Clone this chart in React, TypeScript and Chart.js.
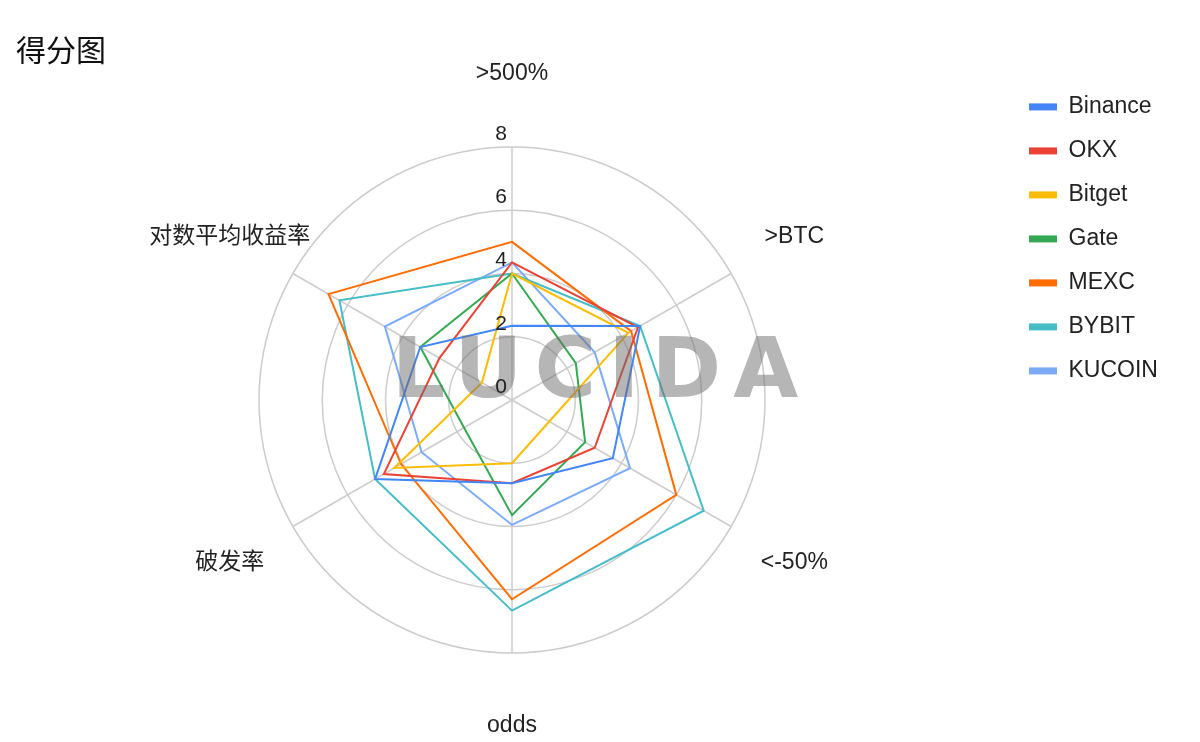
import React, { useEffect, useRef } from 'react';
import { Chart, registerables } from 'chart.js';

Chart.register(...registerables);

const categories = ['>500%', '>BTC', '<-50%', 'odds', '破发率', '对数平均收益率'];
const seriesNames = ['Binance', 'OKX', 'Bitget', 'Gate', 'MEXC', 'BYBIT', 'KUCOIN'];
const binance = [2.35, 4.68, 3.68, 2.63, 5.0, 3.35];
const okx = [4.35, 4.6, 3.02, 2.63, 4.68, 2.65];
const bitget = [4.0, 4.25, 1.36, 2.0, 4.3, 1.1];
const gate = [4.0, 2.33, 2.67, 3.64, 1.75, 3.35];
const mexc = [5.0, 4.35, 6.0, 6.3, 4.05, 6.7];
const bybit = [4.0, 4.68, 7.0, 6.66, 5.0, 6.3];
const kucoin = [4.35, 3.02, 4.31, 3.95, 3.3, 4.64];
const seriesValues = [binance, okx, bitget, gate, mexc, bybit, kucoin];
const colors = ['#4285F4', '#EA4335', '#FBBC04', '#34A853', '#FF6D01', '#46BDC6', '#7BAAF7'];
const axisMin = 0;
const axisMax = 8;
const axisStep = 2;
const titleText = '得分图';
const watermarkText = 'LUCIDA';

const FONT = '"Liberation Sans", Arial, "Noto Sans CJK SC", sans-serif';

const overlayPlugin = {
  id: 'overlayLabels',
  afterDatasetsDraw(chart: any) {
    const scale = chart.scales.r;
    const ctx = chart.ctx as CanvasRenderingContext2D;
    ctx.save();
    // watermark
    ctx.font = 'bold 84px "DejaVu Sans", sans-serif';
    (ctx as any).letterSpacing = '12px';
    ctx.fillStyle = 'rgba(110,110,110,0.5)';
    ctx.textAlign = 'center';
    ctx.textBaseline = 'alphabetic';
    ctx.fillText(watermarkText, scale.xCenter + 89, scale.yCenter - 3);
    (ctx as any).letterSpacing = '0px';

    // tick labels
    ctx.font = `21px ${FONT}`;
    ctx.fillStyle = '#222';
    ctx.textAlign = 'right';
    ctx.textBaseline = 'middle';
    scale.ticks.forEach((t: any) => {
      const d = scale.getDistanceFromCenterForValue(t.value);
      ctx.fillText(String(t.label), scale.xCenter - 5, scale.yCenter - d - 13);
    });

    // point labels
    ctx.font = `23px ${FONT}`;
    ctx.textAlign = 'center';
    (chart.data.labels as string[]).forEach((lab, i) => {
      const p = scale.getPointPosition(i, scale.drawingArea + 73);
      ctx.fillText(lab, p.x, p.y);
    });
    ctx.restore();
  },
};

export default function App() {
  const ref = useRef<HTMLCanvasElement | null>(null);
  useEffect(() => {
    if (!ref.current) return;
    const chart = new Chart(ref.current, {
      type: 'radar',
      data: {
        labels: categories,
        datasets: seriesNames.map((name, i) => ({
          label: name,
          data: seriesValues[i],
          borderColor: colors[i],
          backgroundColor: colors[i],
          borderWidth: 2,
          pointRadius: 0,
          pointHoverRadius: 0,
          fill: false,
        })),
      },
      options: {
        responsive: false,
        animation: false,
        layout: { padding: { left: 16, top: 10, right: 42, bottom: 89 } },
        scales: {
          r: {
            min: axisMin,
            max: axisMax,
            ticks: { stepSize: axisStep, display: false },
            grid: { circular: true, color: '#cccccc', lineWidth: 1.5 },
            angleLines: { color: '#cccccc', lineWidth: 1.5 },
            pointLabels: { display: false },
          },
        },
        plugins: {
          tooltip: { enabled: false },
          title: {
            display: true,
            text: titleText,
            align: 'start',
            color: '#111',
            font: { size: 30, weight: 'normal', family: FONT },
            padding: { top: 25, bottom: 76 },
          },
          legend: {
            position: 'right',
            align: 'start',
            maxWidth: 150,
            title: { display: true, text: '', font: { size: 12 }, padding: { top: 50, bottom: 0 } },
            labels: {
              boxWidth: 28,
              boxHeight: 7,
              padding: 21,
              color: '#222',
              font: { size: 23, family: FONT },
              generateLabels: (c: any) =>
                (Chart.defaults.plugins.legend.labels.generateLabels as any)(c).map((l: any) => ({
                  ...l,
                  lineWidth: 0,
                })),
            },
          },
        },
      } as any,
      plugins: [overlayPlugin],
    });
    return () => chart.destroy();
  }, []);
  return (
    <div style={{ position: 'fixed', left: 0, top: 0, width: 1200, height: 742, background: '#fff' }}>
      <canvas ref={ref} width={1200} height={742} />
    </div>
  );
}
